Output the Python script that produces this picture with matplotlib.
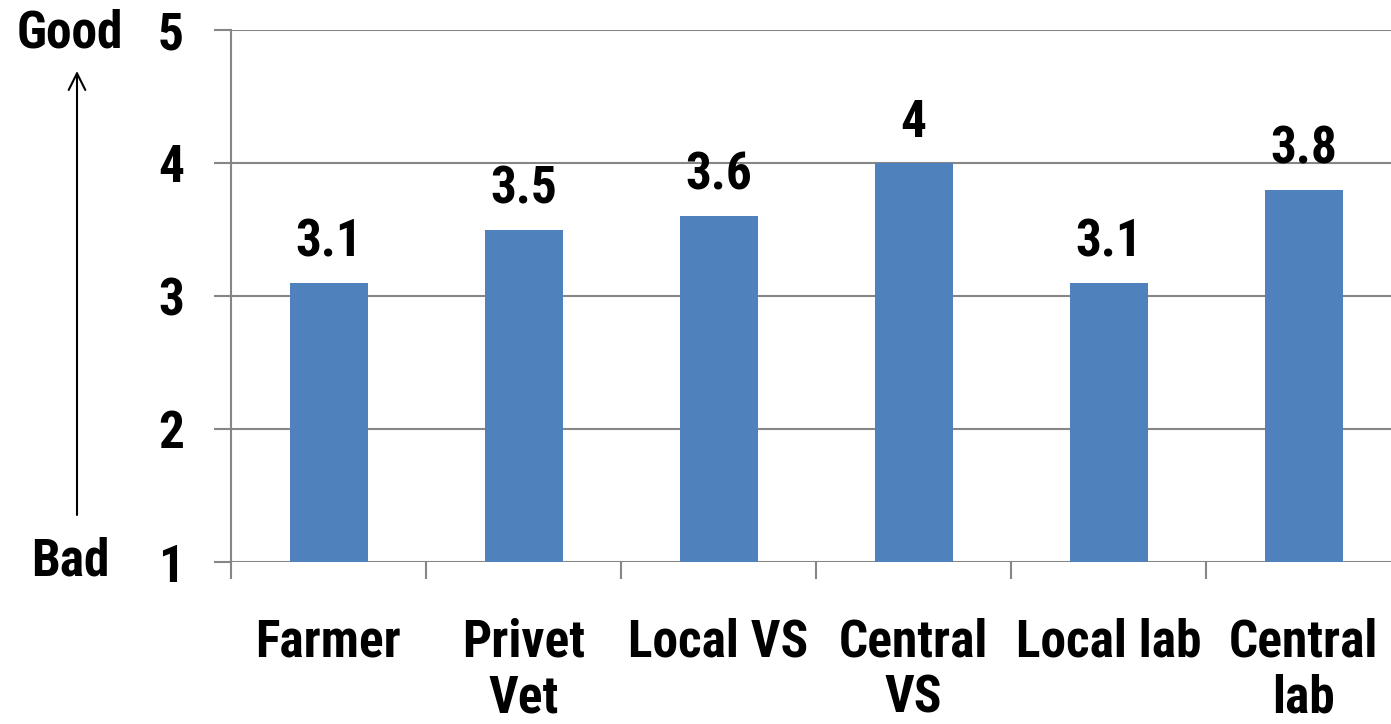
import matplotlib.pyplot as plt
import matplotlib.transforms as mtransforms

plt.rcParams['font.family'] = ['Liberation Sans Narrow', 'Roboto Condensed',
                               'IBM Plex Sans Condensed', 'DejaVu Sans']
plt.rcParams['font.weight'] = 'bold'

# Data
categories = ["Farmer", "Privet\nVet", "Local VS", "Central\nVS", "Local lab", "Central\nlab"]
scores = [3.1, 3.5, 3.6, 4.0, 3.1, 3.8]
score_labels = ["3.1", "3.5", "3.6", "4", "3.1", "3.8"]
y_ticks = [1, 2, 3, 4, 5]

W, H = 1391, 724
FS = 37
fig = plt.figure(figsize=(W / 100, H / 100), dpi=100)
ax = fig.add_axes([231 / W, (H - 562) / H, 1170 / W, 532 / H])

grey = "#868686"
x = list(range(len(categories)))
ax.bar(x, scores, width=0.4, color="#4F81BD", zorder=3)

for xi, v, lab in zip(x, scores, score_labels):
    ax.annotate(lab, (xi, v), xytext=(0, 11), textcoords="offset points",
                ha="center", va="bottom", fontsize=FS, fontweight="bold")

ax.set_xlim(-0.5, 5.5)
ax.set_ylim(1, 5)
ax.set_yticks(y_ticks)
ax.set_yticklabels([str(t) for t in y_ticks], fontsize=FS, fontweight="bold")
ax.set_xticks([i - 0.5 for i in x] + [5.5])
ax.set_xticklabels([])
ax.set_xticks(x, minor=True)
ax.set_xticklabels(categories, minor=True, fontsize=FS, fontweight="bold", linespacing=1.15)
ax.tick_params(axis="x", which="minor", length=0, pad=40)
ax.tick_params(axis="x", which="major", length=12, width=1.5, color=grey)
ax.tick_params(axis="y", length=12, width=1.5, color=grey, pad=22)

ax.grid(axis="y", color=grey, linewidth=1.5, zorder=0)
for s in ["top", "right", "bottom"]:
    ax.spines[s].set_visible(False)
ax.spines["left"].set_color(grey)
ax.spines["left"].set_linewidth(1.5)

# Good / Bad labels with arrow
trans = mtransforms.blended_transform_factory(fig.transFigure, ax.transData)
ax.text(70 / W, 4.97, "Good", transform=trans, ha="center", va="center",
        fontsize=FS, fontweight="bold")
ax.text(70 / W, 1, "Bad", transform=trans, ha="center", va="center",
        fontsize=FS, fontweight="bold")
ax.annotate("", xy=(77 / W, (H - 71) / H), xytext=(77 / W, (H - 515) / H),
            xycoords="figure fraction", textcoords="figure fraction",
            arrowprops=dict(arrowstyle="->", lw=1.5, color="black",
                            mutation_scale=30, shrinkA=0, shrinkB=0),
            annotation_clip=False)

fig.savefig("out.png", dpi=100)
